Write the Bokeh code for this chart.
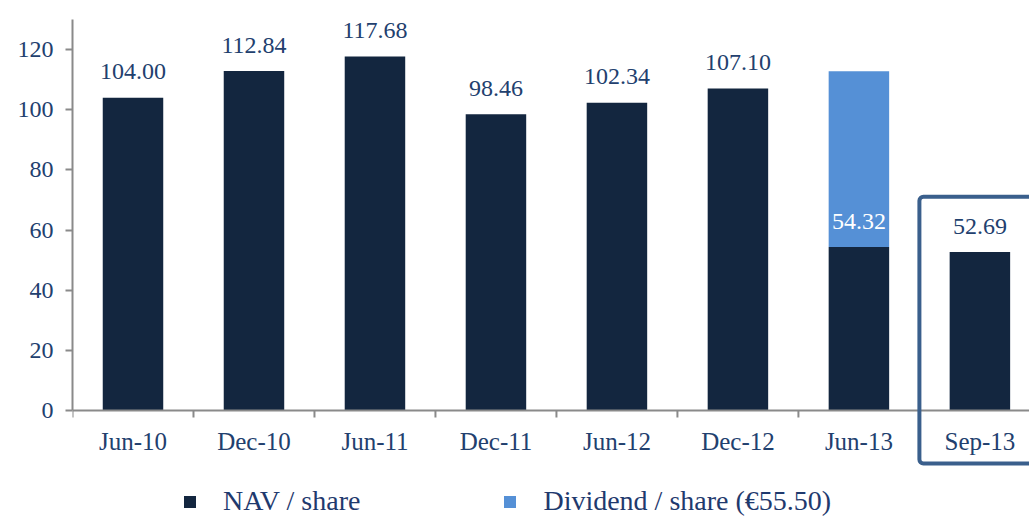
from bokeh.plotting import figure
from bokeh.models import (ColumnDataSource, Range1d, FixedTicker, BoxAnnotation,
                          Legend, LegendItem)
from bokeh.core.properties import value
from bokeh.embed import file_html
from bokeh.resources import INLINE

categories = ["Jun-10", "Dec-10", "Jun-11", "Dec-11", "Jun-12", "Dec-12", "Jun-13", "Sep-13"]
nav = [104.00, 112.84, 117.68, 98.46, 102.34, 107.10, 54.32, 52.69]
dividend = [0, 0, 0, 0, 0, 0, 58.5, 0]
y_ticks = [0, 20, 40, 60, 80, 100, 120]

FONT = "Liberation Serif"
TEXT = "#22406e"
NAVC = "#13263f"
DIVC = "#5590d6"
AXC = "#8a8a8a"

W, H = 1029, 518
TOP, LEFT, AXIS_Y = 19, 72, 410          # pixel layout
Y_MAX = 130
PX_PER_UNIT = (AXIS_Y - TOP) / Y_MAX
Y_MIN = -(H - AXIS_Y) / PX_PER_UNIT       # frame extends below the axis

xs = list(range(len(categories)))
tops = [n + d for n, d in zip(nav, dividend)]
label_colors = ["white" if d > 0 else TEXT for d in dividend]
label_text = ["%.2f" % n for n in nav]

src = ColumnDataSource(dict(x=xs, nav=nav, top=tops, lab=label_text, col=label_colors))

p = figure(width=W, height=H, output_backend="svg", toolbar_location=None,
           x_range=Range1d(-0.5, 7.41), y_range=Range1d(Y_MIN, Y_MAX),
           x_axis_location=None,
           min_border_left=LEFT, min_border_right=0, min_border_top=TOP,
           min_border_bottom=0)
p.outline_line_color = None
p.xgrid.visible = False
p.ygrid.visible = False

r_nav = p.vbar(x="x", top="nav", bottom=0, width=0.5, source=src,
               fill_color=NAVC, line_color=None)
r_div = p.vbar(x="x", top="top", bottom="nav", width=0.5, source=src,
               fill_color=DIVC, line_color=None)

p.text(x="x", y="nav", text="lab", source=src, text_color="col",
       text_font=value(FONT), text_font_size="24px", text_align="center",
       text_baseline="alphabetic", y_offset=-26)

# y axis (library axis, bounded to the value range)
ya = p.yaxis[0]
ya.bounds = (0, Y_MAX)
ya.ticker = FixedTicker(ticks=y_ticks)
ya.axis_line_color = AXC
ya.axis_line_width = 2
ya.major_tick_line_color = AXC
ya.major_tick_line_width = 2
ya.major_tick_out = 7
ya.major_tick_in = 0
ya.minor_tick_line_color = None
ya.major_label_text_font = FONT
ya.major_label_text_font_size = "24px"
ya.major_label_text_color = TEXT
ya.major_label_standoff = 12

# category axis at y = 0: line, boundary ticks and labels
tick_len = 7 / PX_PER_UNIT
p.segment(x0=[p.x_range.start], y0=[0], x1=[p.x_range.end], y1=[0],
          line_color=AXC, line_width=2)
bounds = [i - 0.5 for i in xs]
p.segment(x0=bounds, y0=[0] * len(bounds), x1=bounds, y1=[-tick_len] * len(bounds),
          line_color=AXC, line_width=2)
p.text(x=xs, y=[0] * len(xs), text=categories, text_font=value(FONT),
       text_font_size="25px", text_color=TEXT, text_align="center",
       text_baseline="alphabetic", y_offset=31)

# highlight box around the last period
box = BoxAnnotation(left=6.5, right=7.8, top=71.1, bottom=-17.6,
                    fill_alpha=0, line_color="#3a5f8c", line_width=4,
                    line_alpha=1.0, border_radius=4)
p.add_layout(box)

legend = Legend(items=[LegendItem(label="NAV / share", renderers=[r_nav]),
                       LegendItem(label="Dividend / share (€55.50)", renderers=[r_div])],
                orientation="horizontal", location=(110, 1),
                label_text_font=FONT, label_text_font_size="28px",
                label_text_color="#1f3a6e", glyph_width=15, glyph_height=15,
                label_standoff=26, spacing=142, padding=0, margin=0,
                border_line_alpha=0, background_fill_alpha=0)
p.add_layout(legend, "center")

open("out.html", "w").write(file_html(p, INLINE))
